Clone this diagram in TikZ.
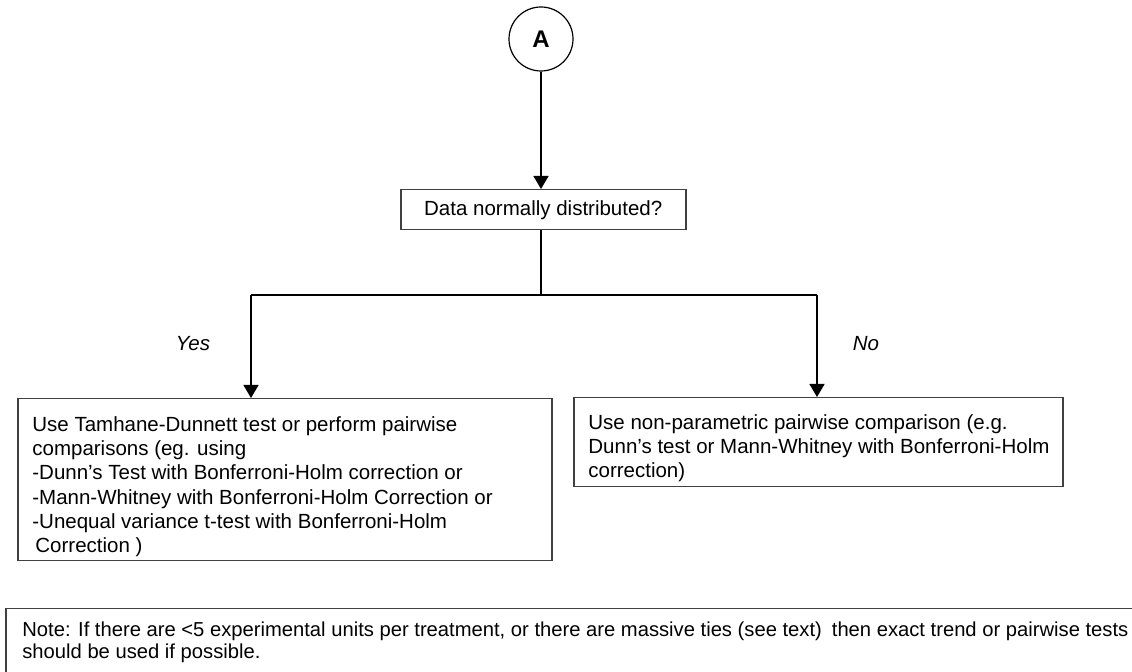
\documentclass[tikz,border=0pt]{standalone}
\usepackage{fontspec}
\setmainfont{Liberation Sans}
\usetikzlibrary{arrows.meta}
\begin{document}
\begin{tikzpicture}[x=0.5pt,y=-0.5pt,
  every node/.style={font=\fontsize{10.25}{12.15}\selectfont},
  box/.style={draw=black!75, line width=0.75pt, rectangle, inner sep=0pt, anchor=north west},
  txt/.style={inner sep=0pt, anchor=north west, align=left},
  conn/.style={line width=0.65pt},
  arr/.style={conn, -{Triangle[length=6.5pt,width=7.5pt]}},
  lbl/.style={font=\fontsize{10.25}{12.15}\selectfont\itshape, inner sep=0pt}]
\useasboundingbox (0,0) rectangle (1132,672);
% start connector
\node[draw, circle, line width=0.6pt, minimum size=32pt, inner sep=0pt,
      font=\fontsize{12}{14}\selectfont\bfseries] (A) at (541,39) {A};
% question
\node[box, minimum width=142.5pt, minimum height=20pt] (q) at (400,189) {Data normally distributed?};
% yes box
\node[box, minimum width=267pt, minimum height=81pt] (yes) at (17,398) {};
\node[txt] (yestxt) at (32,416) {Use Tamhane-Dunnett test or perform pairwise\\
comparisons (eg. using\\
-Dunn’s Test with Bonferroni-Holm correction or\\
-Mann-Whitney with Bonferroni-Holm Correction or\\
-Unequal variance t-test with Bonferroni-Holm\\
\hspace{1.5pt}Correction )};
% no box
\node[box, minimum width=244.5pt, minimum height=44.5pt] (no) at (573,397) {};
\node[txt] (notxt) at (588,414) {Use non-parametric pairwise comparison (e.g.\\
Dunn’s test or Mann-Whitney with Bonferroni-Holm\\
correction)};
% note box
\node[box, minimum width=572.5pt, minimum height=40pt] (note) at (5,608) {};
\node[txt, font=\fontsize{10.1}{11.4}\selectfont] (notetxt) at (22,621) {Note: If there are <5 experimental units per treatment, or there are massive ties (see text)\hspace{5pt}then exact trend or pairwise tests\\
should be used if possible.};
% labels
\node[lbl] (ylbl) at (193,344) {Yes};
\node[lbl] (nlbl) at (866,344) {No};
% connectors
\coordinate (split) at (541,295);
\coordinate (yl) at (251,295);
\coordinate (yr) at (817,295);
\draw[arr] (A.south) -- (A.south |- q.north);
\draw[conn] (split |- q.south) -- (split);
\draw[conn] (yl) -- (yr);
\draw[arr] (yl) -- (yl |- yes.north);
\draw[arr] (yr) -- (yr |- no.north);
\end{tikzpicture}
\end{document}
